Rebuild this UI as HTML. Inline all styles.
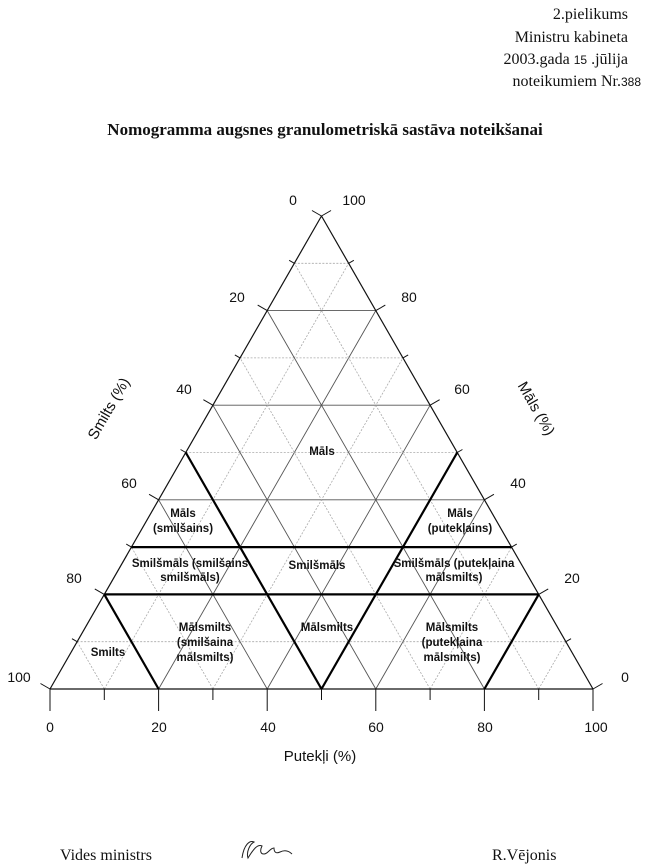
<!DOCTYPE html>
<html><head><meta charset="utf-8"><style>
html,body{margin:0;padding:0;background:#fff;}
svg{display:block;}
</style></head><body>
<svg id="s" width="650" height="864" viewBox="0 0 650 864" xmlns="http://www.w3.org/2000/svg">
<g font-family="Liberation Serif, serif" font-size="16" fill="#111" text-anchor="end">
<text x="628" y="19">2.pielikums</text>
<text x="628" y="42">Ministru kabineta</text>
<text x="628" y="64">2003.gada <tspan font-family="Liberation Sans, sans-serif" font-size="12">15</tspan>  .jūlija</text>
<text x="641" y="86">noteikumiem Nr.<tspan font-family="Liberation Sans, sans-serif" font-size="12">388</tspan></text>
</g>
<text x="325" y="135" font-family="Liberation Serif, serif" font-size="17" font-weight="bold" text-anchor="middle" fill="#111">Nomogramma augsnes granulometriskā sastāva noteikšanai</text>
<g id="grid"></g>
<g font-family="Liberation Sans, sans-serif" font-size="14" fill="#111" text-anchor="middle">
<text x="293" y="205">0</text><text x="354" y="205">100</text>
<text x="237" y="302">20</text><text x="409" y="302">80</text>
<text x="184" y="394">40</text><text x="462" y="394">60</text>
<text x="129" y="488">60</text><text x="518" y="488">40</text>
<text x="74" y="583">80</text><text x="572" y="583">20</text>
<text x="19" y="682">100</text><text x="625" y="682">0</text>
<text x="50" y="732">0</text><text x="159" y="732">20</text><text x="268" y="732">40</text>
<text x="376" y="732">60</text><text x="485" y="732">80</text><text x="596" y="732">100</text>
<text x="320" y="761" font-size="15">Putekļi (%)</text>
<text transform="translate(113,411) rotate(-60)" font-size="15">Smilts (%)</text>
<text transform="translate(532,411) rotate(60)" font-size="15">Māls (%)</text>
</g>
<g font-family="Liberation Sans, sans-serif" font-size="11.5" font-weight="bold" fill="#111" text-anchor="middle">
<text x="322" y="455">Māls</text>
<text x="183" y="517">Māls</text><text x="183" y="532">(smilšains)</text>
<text x="460" y="517">Māls</text><text x="460" y="532">(putekļains)</text>
<text x="190" y="567">Smilšmāls (smilšains</text><text x="190" y="581">smilšmāls)</text>
<text x="317" y="569">Smilšmāls</text>
<text x="454" y="567">Smilšmāls (putekļaina</text><text x="454" y="581">mālsmilts)</text>
<text x="205" y="631">Mālsmilts</text><text x="205" y="646">(smilšaina</text><text x="205" y="661">mālsmilts)</text>
<text x="108" y="656">Smilts</text>
<text x="327" y="631">Mālsmilts</text>
<text x="452" y="631">Mālsmilts</text><text x="452" y="646">(putekļaina</text><text x="452" y="661">mālsmilts)</text>
</g>
<g font-family="Liberation Serif, serif" font-size="16" fill="#111">
<text x="60" y="860">Vides ministrs</text>
<text x="492" y="860">R.Vējonis</text>
</g>
<path d="M242,858 c2,-14 8,-18 12,-16 c-4,2 -8,10 -6,16 c6,-10 10,-14 14,-12 c-2,4 -2,8 2,8 c4,0 6,-6 10,-6 c0,4 2,6 6,4 c4,-2 8,-2 12,2" fill="none" stroke="#222" stroke-width="1"/>
<script>
(function(){
var g=document.getElementById('grid'),ns='http://www.w3.org/2000/svg';
function L(x1,y1,x2,y2,c,w,d){var l=document.createElementNS(ns,'line');l.setAttribute('x1',x1);l.setAttribute('y1',y1);l.setAttribute('x2',x2);l.setAttribute('y2',y2);l.setAttribute('stroke',c);l.setAttribute('stroke-width',w);if(d)l.setAttribute('stroke-dasharray',d);g.appendChild(l);}
function P(p,c){return [50+5.43*p+2.715*c,689-4.73*c];}
for(var k=10;k<100;k+=10){
 var even=(k%20==0),col=even?'#555':'#aaa',w=even?0.9:0.8,d=even?null:'2,1.5';
 var a=P(0,k),b=P(100-k,k);L(a[0],a[1],b[0],b[1],col,w,d);
 a=P(k,0);b=P(k,100-k);L(a[0],a[1],b[0],b[1],col,w,d);
 a=P(k,0);b=P(0,k);L(a[0],a[1],b[0],b[1],col,w,d);
}
L(50,689,593,689,'#111',1.2);L(50,689,321.5,216,'#111',1.2);L(593,689,321.5,216,'#111',1.2);
for(var k=0;k<=100;k+=10){
 var len=(k%20==0)?11:6;
 var a=P(0,k);L(a[0],a[1],a[0]-0.866*len,a[1]-0.5*len,'#111',1);
 a=P(100-k,k);L(a[0],a[1],a[0]+0.866*len,a[1]-0.5*len,'#111',1);
 a=P(k,0);L(a[0],689,a[0],(k%20==0)?711:700,'#111',1);
}
function B(p1,c1,p2,c2){var a=P(p1,c1),b=P(p2,c2);L(a[0],a[1],b[0],b[1],'#000',2.2);}
B(0,20,80,20);B(0,30,70,30);
B(20,0,0,20);B(50,0,0,50);B(50,0,50,50);B(80,0,80,20);
})();
</script>
</svg>
</body></html>
